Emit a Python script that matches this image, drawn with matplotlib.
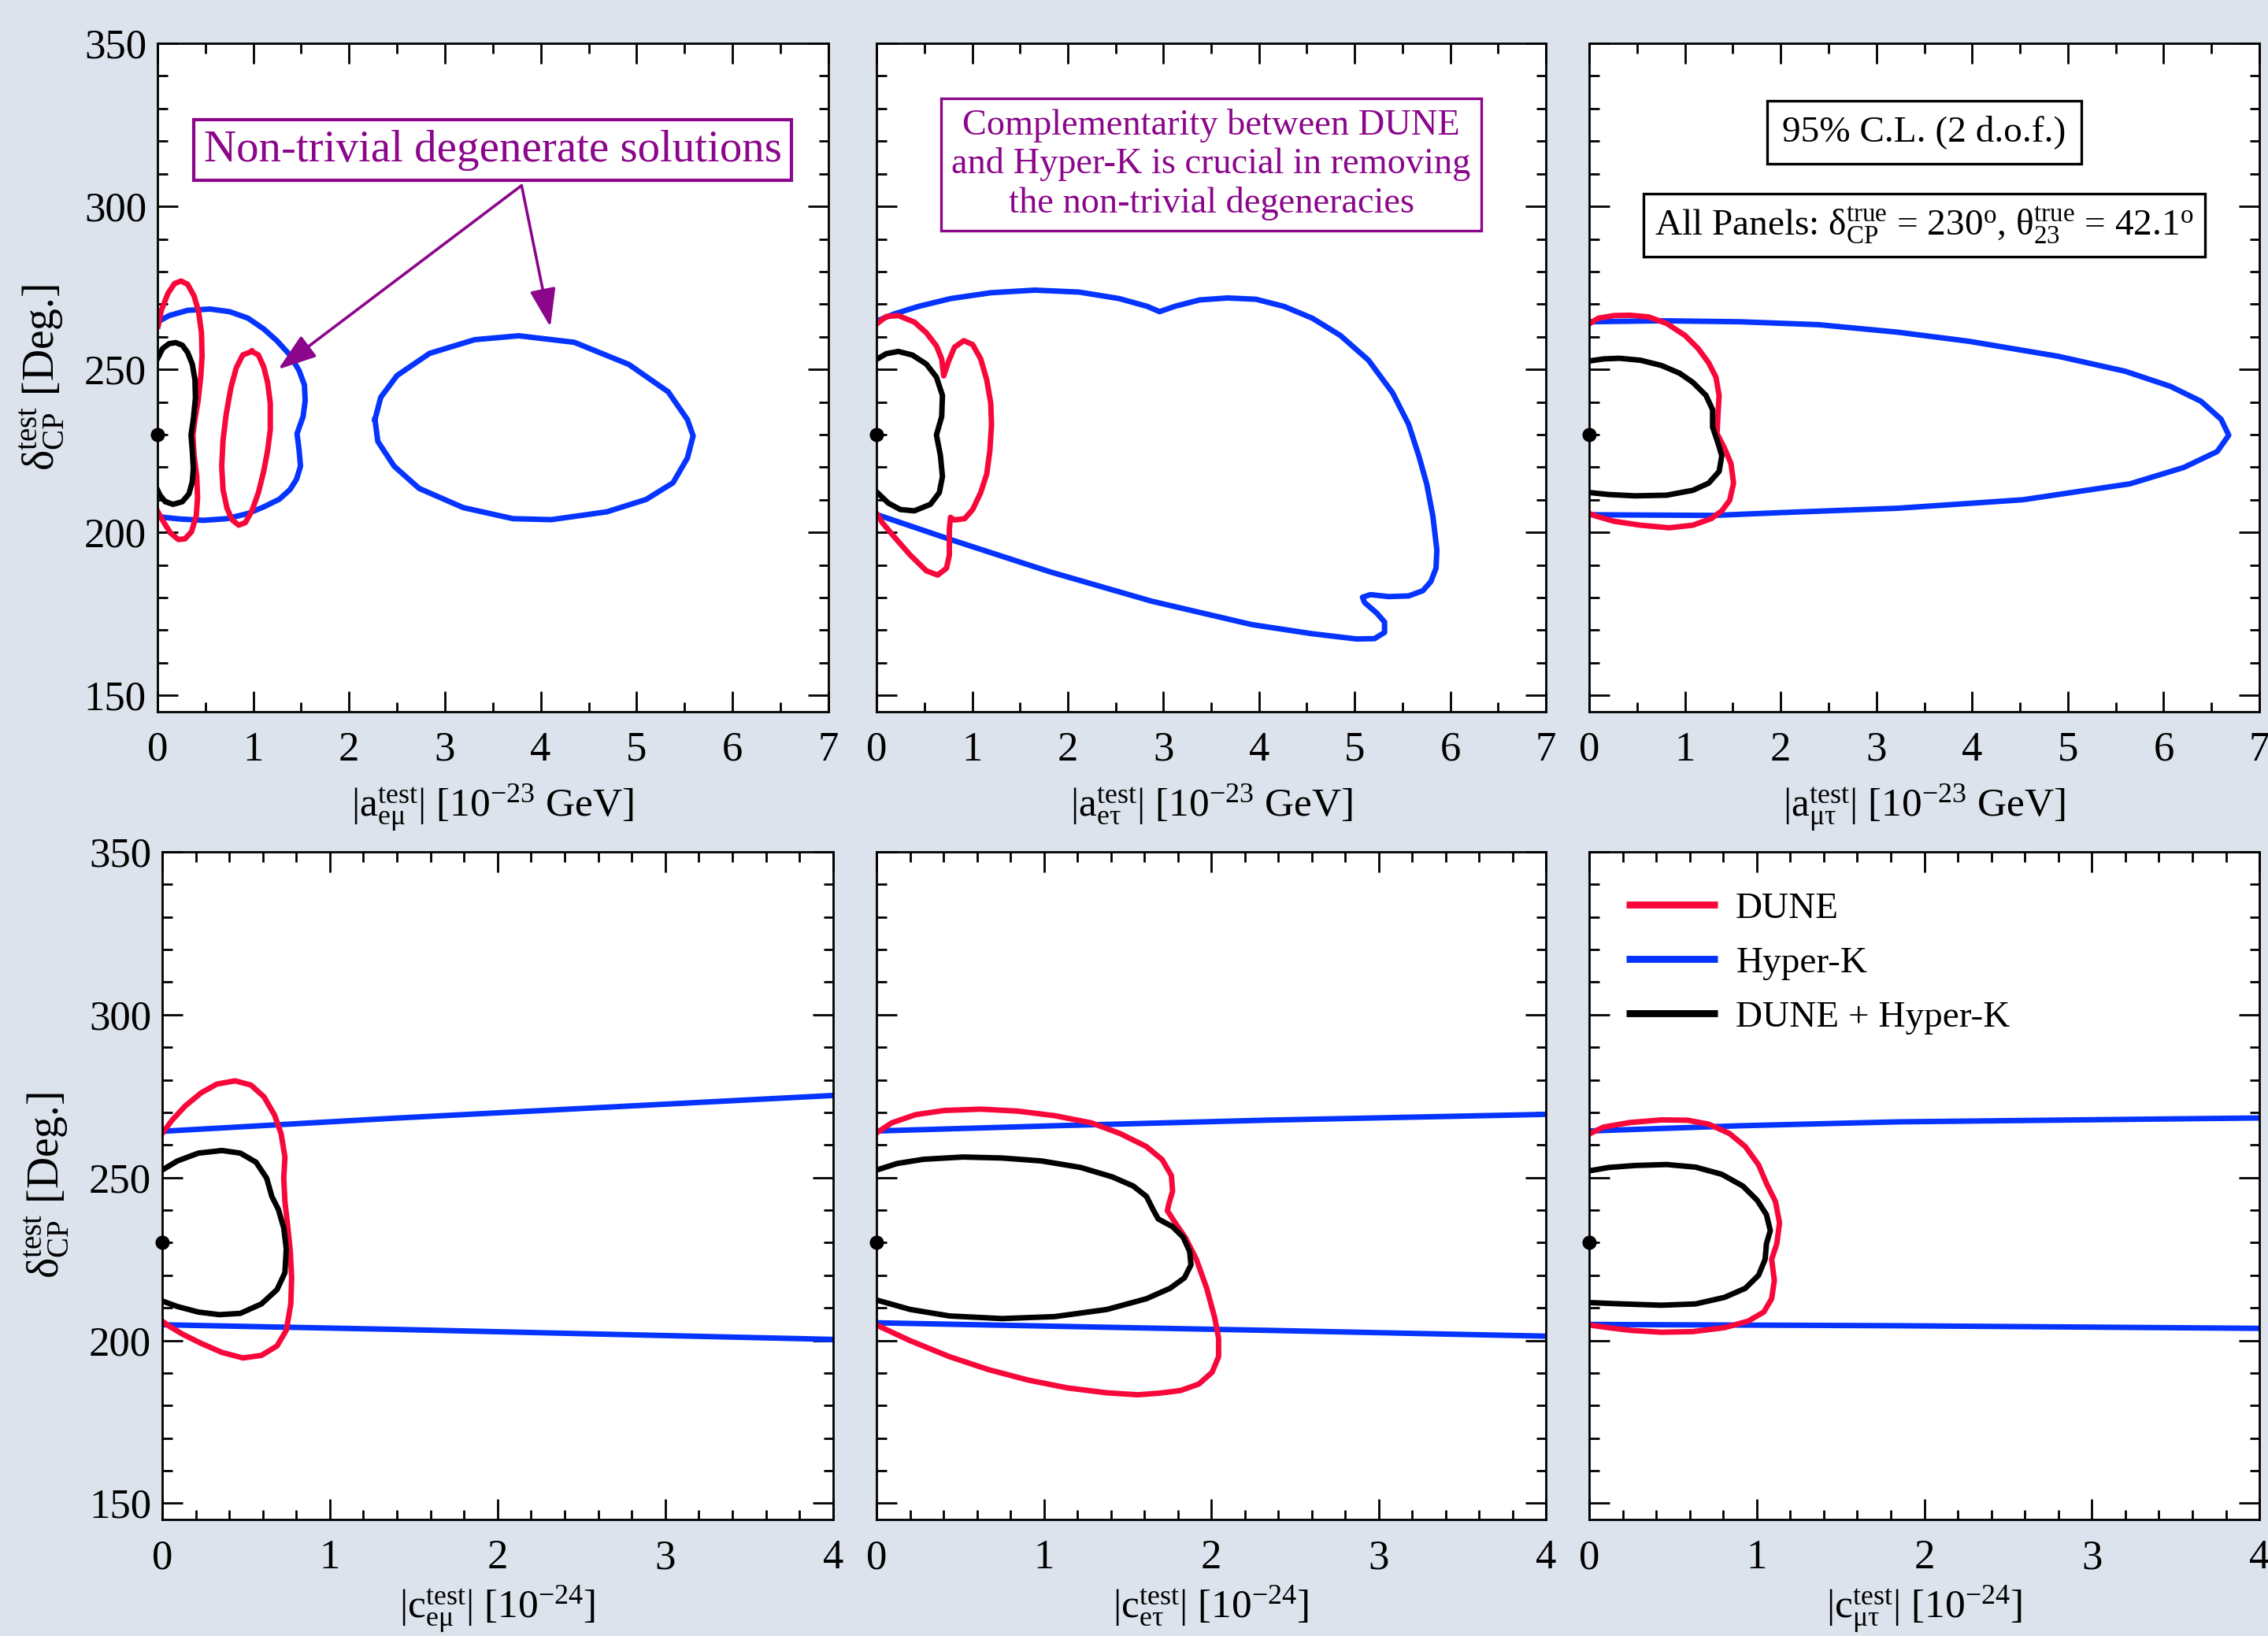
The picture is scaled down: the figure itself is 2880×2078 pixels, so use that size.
import numpy as np
import matplotlib.pyplot as plt
from matplotlib.ticker import MultipleLocator

# ---
# data
# ---

# true point in all panels
true_dcp = 230.0

# top-left: |a_emu|
aem_hk1_x = [0, 0.123, 0.315, 0.548, 0.753, 0.945, 1.109, 1.246, 1.383, 1.479, 1.534, 1.542, 1.520, 1.457, 1.479, 1.493,
             1.452, 1.383, 1.274, 1.109, 0.945, 0.726, 0.479, 0.233, 0.068, 0]
aem_hk1_y = [264.5, 266.5, 268.1, 268.5, 267.7, 265.7, 262.4, 258.8, 254.4, 249.6, 245.2, 240.4, 235.5, 230.3, 225.1, 220.3,
             216.3, 213.1, 210.2, 207.8, 205.8, 204.2, 203.7, 204.1, 204.6, 205.0]
aem_hk2_x = [2.27, 2.33, 2.50, 2.84, 3.31, 3.77, 4.35, 4.92, 5.33, 5.53, 5.59, 5.53, 5.38, 5.10, 4.69, 4.11, 3.71, 3.19, 2.73, 2.47, 2.30, 2.27]
aem_hk2_y = [234.6, 241.4, 248.1, 254.9, 259.1, 260.3, 258.3, 251.5, 243.1, 234.6, 229.6, 222.8, 215.2, 210.1, 206.3, 203.9, 204.2, 207.6, 213.5, 220.3, 227.9, 234.6]
aem_dune1_x = [0.008, 0.041, 0.110, 0.178, 0.247, 0.315, 0.383, 0.430, 0.460, 0.466, 0.452, 0.425, 0.392, 0.370, 0.383,
               0.411, 0.419, 0.405, 0.356, 0.288, 0.219, 0.137, 0.068, 0.014, 0]
aem_dune1_y = [263.3, 268.1, 273.3, 276.3, 277.1, 276.1, 272.5, 267.7, 261.2, 254.0, 247.6, 240.4, 234.7, 229.9, 223.5,
               217.1, 210.6, 205.0, 200.2, 198.0, 197.8, 199.8, 203.0, 205.8, 206.6]
aem_dune2_x = [0.986, 1.054, 1.109, 1.150, 1.178, 1.178, 1.150, 1.109, 1.054, 0.986, 0.918, 0.849, 0.781, 0.726, 0.685,
               0.671, 0.685, 0.718, 0.767, 0.822, 0.890, 0.986]
aem_dune2_y = [255.5, 254.4, 250.8, 246.0, 239.6, 231.5, 225.1, 218.7, 212.2, 206.6, 203.0, 202.2, 203.8, 207.4, 213.1,
               220.3, 228.3, 236.3, 244.4, 250.4, 254.4, 255.5]
aem_comb_x = [0, 0.055, 0.123, 0.192, 0.260, 0.315, 0.364, 0.392, 0.397, 0.375, 0.351, 0.364, 0.375, 0.364, 0.329, 0.260,
              0.164, 0.082, 0.027, 0]
aem_comb_y = [253.2, 256.4, 257.9, 258.2, 257.4, 255.2, 251.6, 246.8, 241.2, 234.7, 229.9, 225.1, 219.5, 215.5, 211.8, 209.4,
              208.6, 209.4, 211.4, 213.1]

# top-middle: |a_etau|
aet_hk_x = [0.008, 0.185, 0.437, 0.773, 1.194, 1.656, 2.119, 2.539, 2.833, 2.959, 3.127, 3.380, 3.674, 3.968, 4.262, 4.557,
            4.851, 5.145, 5.397, 5.565, 5.671, 5.755, 5.818, 5.860, 5.851, 5.797, 5.713, 5.565, 5.355, 5.166, 5.082, 5.103,
            5.229, 5.313, 5.313, 5.208, 5.019, 4.557, 3.926, 2.875, 1.824, 0.773, 0.008]
aet_hk_y = [264.9, 267.0, 269.3, 271.7, 273.5, 274.3, 273.7, 271.7, 269.3, 267.7, 269.4, 271.3, 271.9, 271.5, 269.3, 265.7,
            260.4, 252.8, 242.8, 233.1, 223.5, 214.7, 205.0, 194.6, 189.0, 184.9, 182.1, 180.5, 180.3, 180.9, 180.1, 178.5,
            175.3, 172.5, 169.3, 167.4, 167.3, 168.9, 171.7, 178.9, 187.8, 197.8, 205.4]
aet_dune_x = [0.008, 0.101, 0.227, 0.395, 0.521, 0.626, 0.681, 0.702, 0.752, 0.815, 0.912, 1.005, 1.089, 1.152, 1.194,
              1.202, 1.185, 1.152, 1.089, 1.005, 0.921, 0.815, 0.773, 0.761, 0.761, 0.731, 0.639, 0.521, 0.353, 0.185,
              0.059, 0.008]
aet_dune_y = [264.1, 266.2, 266.5, 264.5, 261.2, 257.2, 253.2, 248.0, 252.4, 256.8, 258.8, 257.6, 253.2, 246.8, 239.6,
              233.1, 225.1, 217.9, 212.2, 207.0, 204.2, 203.8, 204.6, 201.0, 193.0, 189.0, 186.9, 188.2, 193.0, 198.6,
              203.0, 205.4]
aet_comb_x = [0.008, 0.101, 0.227, 0.374, 0.521, 0.626, 0.689, 0.681, 0.626, 0.668, 0.689, 0.656, 0.563, 0.395, 0.248, 0.122, 0.008]
aet_comb_y = [253.2, 254.8, 255.5, 254.4, 251.6, 247.6, 242.0, 235.5, 229.9, 223.5, 217.1, 212.2, 208.6, 206.6, 207.0, 209.0, 212.2]

# top-right: |a_mutau|
amt_hk_x = [0, 0.754, 1.577, 2.399, 3.222, 3.97, 4.90, 5.60, 6.07, 6.39, 6.60, 6.68, 6.56, 6.21, 5.65, 4.53, 3.222, 2.125, 1.302, 0]
amt_hk_y = [264.6, 264.9, 264.6, 263.7, 261.4, 258.6, 254.0, 249.4, 244.8, 240.2, 234.7, 229.8, 224.8, 219.9, 214.9, 210.0,
            207.4, 206.2, 205.2, 205.4]
amt_dune_x = [0.008, 0.096, 0.260, 0.425, 0.617, 0.809, 1.001, 1.138, 1.248, 1.324, 1.357, 1.344, 1.335, 1.412, 1.481,
              1.508, 1.467, 1.385, 1.275, 1.083, 0.836, 0.535, 0.260, 0.069, 0.008]
amt_dune_y = [264.1, 265.7, 266.5, 266.6, 266.1, 264.1, 260.4, 256.4, 252.0, 247.6, 242.0, 235.5, 230.3, 225.9, 221.1,
              215.1, 209.8, 206.6, 204.2, 202.2, 201.4, 202.2, 203.4, 205.0, 205.7]
amt_comb_x = [0.008, 0.151, 0.315, 0.535, 0.754, 0.946, 1.083, 1.220, 1.289, 1.289, 1.344, 1.385, 1.357, 1.248, 1.083,
              0.809, 0.480, 0.206, 0.008]
amt_comb_y = [252.6, 253.2, 253.4, 252.8, 251.2, 248.8, 246.0, 242.0, 237.6, 232.3, 227.5, 223.5, 218.7, 215.1, 212.9,
              211.4, 211.2, 211.6, 212.2]

# bottom-left: |c_emu|
cem_hk_up_x, cem_hk_up_y = [0, 1.374, 4], [264.2, 268.2, 275.2]
cem_hk_lo_x, cem_hk_lo_y = [0, 1.374, 4], [204.8, 203.4, 200.3]
cem_dune_x = [0.005, 0.059, 0.138, 0.232, 0.326, 0.435, 0.529, 0.607, 0.670, 0.709, 0.732, 0.725, 0.732, 0.748, 0.764,
              0.772, 0.767, 0.740, 0.685, 0.592, 0.482, 0.357, 0.232, 0.122, 0.044, 0]
cem_dune_y = [263.9, 267.6, 272.0, 276.0, 278.7, 279.7, 278.4, 274.8, 269.2, 263.5, 256.3, 249.8, 242.6, 235.3, 227.3,
              219.2, 211.2, 203.1, 198.3, 195.4, 194.6, 196.3, 199.1, 201.9, 204.3, 205.9]
cem_comb_x = [0, 0.091, 0.216, 0.357, 0.466, 0.560, 0.623, 0.654, 0.693, 0.725, 0.740, 0.732, 0.685, 0.592, 0.466, 0.341,
              0.216, 0.091, 0]
cem_comb_y = [252.3, 255.1, 257.5, 258.3, 257.5, 254.7, 249.8, 244.2, 240.2, 234.5, 228.1, 220.8, 215.6, 211.2, 208.3, 207.9,
              208.7, 210.4, 212.1]

# bottom-middle: |c_etau|
cet_hk_up_x, cet_hk_up_y = [0, 1.064, 2.318, 4], [264.3, 265.9, 267.6, 269.4]
cet_hk_lo_x, cet_hk_lo_y = [0, 2.318, 4], [205.4, 203.1, 201.3]
cet_dune_x = [0.005, 0.091, 0.232, 0.405, 0.624, 0.844, 1.064, 1.283, 1.456, 1.613, 1.707, 1.762, 1.769, 1.746, 1.738,
              1.785, 1.848, 1.911, 1.973, 2.020, 2.044, 2.044, 2.005, 1.926, 1.816, 1.691, 1.56, 1.377, 1.142, 0.907,
              0.671, 0.436, 0.201, 0]
cet_dune_y = [263.9, 266.8, 269.3, 270.6, 271.0, 270.4, 269.0, 266.8, 263.5, 259.5, 255.5, 250.6, 245.8, 241.8, 239.8,
              236.1, 231.3, 224.9, 216.0, 207.1, 200.7, 195.0, 190.2, 186.6, 184.6, 183.8, 183.3, 183.9, 185.4, 187.8,
              191.0, 195.0, 199.9, 204.7]
cet_comb_x = [0, 0.122, 0.279, 0.515, 0.750, 0.985, 1.220, 1.409, 1.534, 1.613, 1.652, 1.683, 1.769, 1.832, 1.871, 1.879,
              1.840, 1.754, 1.613, 1.377, 1.064, 0.750, 0.436, 0.201, 0]
cet_comb_y = [252.3, 254.3, 255.6, 256.3, 256.0, 255.1, 253.1, 250.2, 247.4, 244.2, 240.2, 237.3, 234.9, 231.7, 227.3, 223.2,
              219.2, 216.0, 212.8, 209.5, 207.3, 206.7, 207.5, 209.5, 212.4]

# bottom-right: |c_mutau|
cmt_hk_up_x, cmt_hk_up_y = [0, 0.9, 1.84, 4], [264.3, 265.9, 267.1, 268.3]
cmt_hk_lo_x, cmt_hk_lo_y = [0, 1.84, 4], [204.9, 204.5, 203.7]
cmt_dune_x = [0.005, 0.086, 0.243, 0.431, 0.588, 0.713, 0.838, 0.932, 1.011, 1.058, 1.112, 1.136, 1.120, 1.089, 1.105,
              1.089, 1.042, 0.948, 0.807, 0.619, 0.431, 0.243, 0.086, 0.005]
cmt_dune_y = [263.5, 265.5, 266.9, 267.7, 267.6, 266.4, 263.5, 259.5, 253.9, 248.2, 242.6, 236.1, 229.7, 224.9, 218.4,
              212.8, 208.7, 205.9, 203.9, 202.7, 202.5, 203.1, 204.1, 204.7]
cmt_comb_x = [0.005, 0.118, 0.274, 0.462, 0.635, 0.791, 0.917, 1.003, 1.058, 1.081, 1.058, 1.050, 1.011, 0.932, 0.807,
              0.635, 0.431, 0.196, 0.005]
cmt_comb_y = [252.1, 253.1, 253.7, 254.0, 253.2, 251.0, 247.4, 243.0, 238.6, 233.7, 229.7, 224.9, 220.0, 216.0, 213.2,
              211.2, 210.8, 211.2, 211.6]

# annotation arrows in the top-left panel
arrow_tail = (3.80, 306.4)
arrow_tips = [(1.26, 250.0), (4.10, 263.0)]

legend_labels = ["DUNE", "Hyper-K", "DUNE + Hyper-K"]

# ---
# style
# ---
bg = '#dce3ec'
red = '#f8073b'
blue = '#0533ff'
purple = '#8b068b'
lw = 2.5

plt.rcParams['font.family'] = ['Liberation Serif', 'DejaVu Serif']
plt.rcParams['mathtext.fontset'] = 'custom'
plt.rcParams['mathtext.rm'] = 'Liberation Serif'
plt.rcParams['mathtext.it'] = 'Liberation Serif:italic'
plt.rcParams['mathtext.default'] = 'regular'
plt.rcParams['lines.solid_joinstyle'] = 'round'


def setup_axes(ax, xmax, xminor, left):
    ax.set_xlim(0, xmax)
    ax.set_ylim(145, 350)
    ax.xaxis.set_major_locator(MultipleLocator(1))
    ax.xaxis.set_minor_locator(MultipleLocator(xminor))
    ax.yaxis.set_major_locator(MultipleLocator(50))
    ax.yaxis.set_minor_locator(MultipleLocator(10))
    ax.tick_params(which='both', direction='in', top=True, right=True, width=1.0, labelsize=19)
    ax.tick_params(which='major', length=9.5)
    ax.tick_params(which='minor', length=4.5)
    ax.tick_params(axis='x', pad=9)
    ax.tick_params(axis='y', pad=5, labelleft=left)
    for s in ax.spines.values():
        s.set_linewidth(1.0)
    ax.plot(0, true_dcp, 'o', color='k', ms=5.5, clip_on=False, zorder=6)


fig = plt.figure(figsize=(14.4, 10.39), dpi=200, facecolor=bg)

rects = [[0.0694, 0.5650, 0.2958, 0.4085],
         [0.3865, 0.5650, 0.2951, 0.4085],
         [0.7007, 0.5650, 0.2955, 0.4085],
         [0.0715, 0.0712, 0.2958, 0.4081],
         [0.3865, 0.0712, 0.2951, 0.4081],
         [0.7007, 0.0712, 0.2955, 0.4081]]
axs = [fig.add_axes(r) for r in rects]

xlabels = [r'$|a^{test}_{eμ}|$ [10$^{-23}$ GeV]',
           r'$|a^{test}_{eτ}|$ [10$^{-23}$ GeV]',
           r'$|a^{test}_{μτ}|$ [10$^{-23}$ GeV]',
           r'$|c^{test}_{eμ}|$ [10$^{-24}$]',
           r'$|c^{test}_{eτ}|$ [10$^{-24}$]',
           r'$|c^{test}_{μτ}|$ [10$^{-24}$]']
ylabel = r'$δ^{test}_{CP}$ [Deg.]'

for i, ax in enumerate(axs):
    if i < 3:
        setup_axes(ax, 7, 0.5, i == 0)
        ax.set_xlabel(xlabels[i], fontsize=18.5)
        ax.xaxis.set_label_coords(0.5, -0.106)
    else:
        setup_axes(ax, 4, 0.2, i == 3)
        ax.set_xlabel(xlabels[i], fontsize=18.5)
        ax.xaxis.set_label_coords(0.5, -0.097)
    if i in (0, 3):
        ax.set_ylabel(ylabel, fontsize=20)
        ax.yaxis.set_label_coords(-0.137, 0.5)

# --- top-left
ax = axs[0]
ax.plot(aem_hk1_x, aem_hk1_y, color=blue, lw=lw)
ax.plot(aem_hk2_x, aem_hk2_y, color=blue, lw=lw)
ax.plot(aem_dune1_x, aem_dune1_y, color=red, lw=lw)
ax.plot(aem_dune2_x, aem_dune2_y, color=red, lw=lw)
ax.plot(aem_comb_x, aem_comb_y, color='k', lw=lw)
ax.text(0.5, 0.84, 'Non-trivial degenerate solutions', transform=ax.transAxes,
        ha='center', va='center', fontsize=20.5, color=purple,
        bbox=dict(boxstyle='square,pad=0.22', fc='white', ec=purple, lw=1.5))
for tip in arrow_tips:
    ax.annotate('', xy=tip, xytext=arrow_tail,
                arrowprops=dict(arrowstyle='-|>,head_length=0.5,head_width=0.17',
                                mutation_scale=30, color=purple, lw=1.3,
                                shrinkA=0, shrinkB=0))

# --- top-middle
ax = axs[1]
ax.plot(aet_hk_x, aet_hk_y, color=blue, lw=lw)
ax.plot(aet_dune_x, aet_dune_y, color=red, lw=lw)
ax.plot(aet_comb_x, aet_comb_y, color='k', lw=lw)
ax.text(0.5, 0.819, 'Complementarity between DUNE\nand Hyper-K is crucial in removing\nthe non-trivial degeneracies',
        transform=ax.transAxes, ha='center', va='center', fontsize=16.7, color=purple,
        linespacing=1.2, multialignment='center',
        bbox=dict(boxstyle='square,pad=0.28', fc='white', ec=purple, lw=1.2))

# --- top-right
ax = axs[2]
ax.plot(amt_hk_x, amt_hk_y, color=blue, lw=lw)
ax.plot(amt_dune_x, amt_dune_y, color=red, lw=lw)
ax.plot(amt_comb_x, amt_comb_y, color='k', lw=lw)
ax.text(0.5, 0.867, '95% C.L. (2 d.o.f.)', transform=ax.transAxes,
        ha='center', va='center', fontsize=17,
        bbox=dict(boxstyle='square,pad=0.4', fc='white', ec='k', lw=1.2))
ax.text(0.5, 0.728, r'All Panels: $δ^{true}_{CP}$ = 230$^{o}$, $θ^{true}_{23}$ = 42.1$^{o}$',
        transform=ax.transAxes, ha='center', va='center', fontsize=17,
        bbox=dict(boxstyle='square,pad=0.3', fc='white', ec='k', lw=1.2))

# --- bottom-left
ax = axs[3]
ax.plot(cem_hk_up_x, cem_hk_up_y, color=blue, lw=lw)
ax.plot(cem_hk_lo_x, cem_hk_lo_y, color=blue, lw=lw)
ax.plot(cem_dune_x, cem_dune_y, color=red, lw=lw)
ax.plot(cem_comb_x, cem_comb_y, color='k', lw=lw)

# --- bottom-middle
ax = axs[4]
ax.plot(cet_hk_up_x, cet_hk_up_y, color=blue, lw=lw)
ax.plot(cet_hk_lo_x, cet_hk_lo_y, color=blue, lw=lw)
ax.plot(cet_dune_x, cet_dune_y, color=red, lw=lw)
ax.plot(cet_comb_x, cet_comb_y, color='k', lw=lw)

# --- bottom-right
ax = axs[5]
l_hk, = ax.plot(cmt_hk_up_x, cmt_hk_up_y, color=blue, lw=lw)
ax.plot(cmt_hk_lo_x, cmt_hk_lo_y, color=blue, lw=lw)
l_dune, = ax.plot(cmt_dune_x, cmt_dune_y, color=red, lw=lw)
l_comb, = ax.plot(cmt_comb_x, cmt_comb_y, color='k', lw=lw)
leg = ax.legend([l_dune, l_hk, l_comb], legend_labels, loc='upper left',
                bbox_to_anchor=(0.055, 0.94), frameon=False, fontsize=17,
                handlelength=2.45, handletextpad=0.5, labelspacing=0.55,
                borderpad=0, borderaxespad=0)
for line in leg.get_lines():
    line.set_linewidth(3.2)
    line.set_solid_capstyle('butt')

fig.savefig('out.png', dpi=200, facecolor=bg)
